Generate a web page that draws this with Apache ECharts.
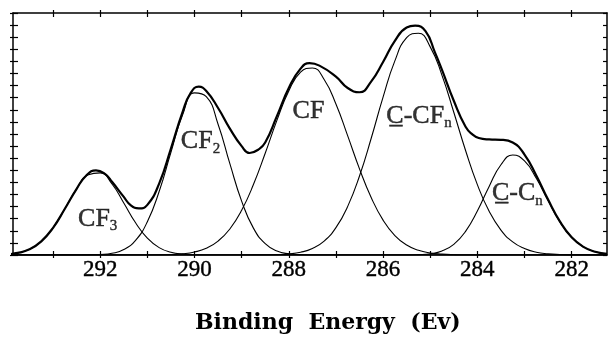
<!DOCTYPE html>
<html>
<head>
<meta charset="utf-8">
<script src="https://cdn.jsdelivr.net/npm/echarts@6/dist/echarts.min.js"></script>
<style>
  html, body { margin: 0; padding: 0; background: #fff; }
  #chart { width: 609px; height: 339px; }
</style>
</head>
<body>
<div id="chart"></div>
<script>
// binding energy grid (eV) for the fitted components, read every 0.25 eV
var energy = [294.00, 293.75, 293.50, 293.25, 293.00, 292.75, 292.50, 292.25, 292.00, 291.75,
  291.50, 291.25, 291.00, 290.75, 290.50, 290.25, 290.00, 289.75, 289.50, 289.25,
  289.00, 288.75, 288.50, 288.25, 288.00, 287.75, 287.50, 287.25, 287.00, 286.75,
  286.50, 286.25, 286.00, 285.75, 285.50, 285.25, 285.00, 284.75, 284.50, 284.25,
  284.00, 283.75, 283.50, 283.25, 283.00, 282.75, 282.50, 282.25, 282.00, 281.75,
  281.50, 281.25];

// fitted components (intensity, arbitrary units)
var cf3 = [0.05, 0.17, 0.47, 1.13, 2.25, 3.82, 5.47, 6.63, 6.79, 5.87,
  4.30, 2.66, 1.39, 0.61, 0.23, 0.07, 0.02, 0, 0, 0,
  0, 0, 0, 0, 0, 0, 0, 0, 0, 0,
  0, 0, 0, 0, 0, 0, 0, 0, 0, 0,
  0, 0, 0, 0, 0, 0, 0, 0, 0, 0,
  0, 0];
var cf2 = [0, 0, 0, 0, 0, 0, 0, 0.01, 0.04, 0.14,
  0.45, 1.21, 2.75, 5.25, 8.48, 11.60, 13.40, 13.09, 10.81, 7.55,
  4.45, 2.22, 0.94, 0.33, 0.10, 0.03, 0, 0, 0, 0,
  0, 0, 0, 0, 0, 0, 0, 0, 0, 0,
  0, 0, 0, 0, 0, 0, 0, 0, 0, 0,
  0, 0];
var cf = [0, 0, 0, 0, 0, 0, 0, 0, 0, 0,
  0, 0, 0, 0.01, 0.04, 0.10, 0.25, 0.56, 1.15, 2.15,
  3.69, 5.82, 8.41, 11.15, 13.56, 15.12, 15.46, 14.50, 12.48, 9.84,
  7.12, 4.73, 2.88, 1.61, 0.82, 0.39, 0.17, 0.07, 0.02, 0,
  0, 0, 0, 0, 0, 0, 0, 0, 0, 0,
  0, 0];
var cCFn = [0, 0, 0, 0, 0, 0, 0, 0, 0, 0,
  0, 0, 0, 0, 0, 0, 0, 0, 0, 0,
  0, 0.01, 0.01, 0.03, 0.09, 0.23, 0.54, 1.15, 2.26, 4.02,
  6.53, 9.67, 13.05, 16.04, 17.96, 18.33, 17.20, 14.85, 11.80, 8.64,
  5.82, 3.61, 2.06, 1.08, 0.53, 0.23, 0.10, 0.04, 0.01, 0,
  0, 0];
var cCn = [0, 0, 0, 0, 0, 0, 0, 0, 0, 0,
  0, 0, 0, 0, 0, 0, 0, 0, 0, 0,
  0, 0, 0, 0, 0, 0, 0, 0, 0, 0,
  0, 0, 0, 0, 0, 0.03, 0.11, 0.33, 0.88, 1.95,
  3.63, 5.67, 7.46, 8.26, 7.77, 6.34, 4.48, 2.74, 1.45, 0.67,
  0.27, 0.09];

// measured envelope: its own energies, denser around peaks and valleys
var envEnergy = [294.00, 293.75, 293.50, 293.25, 293.00, 292.75, 292.50, 292.30, 292.09, 291.90,
  291.75, 291.50, 291.35, 291.18, 291.00, 290.75, 290.50, 290.25, 290.08, 289.91,
  289.75, 289.50, 289.25, 289.00, 288.83, 288.65, 288.50, 288.25, 288.00, 287.75,
  287.56, 287.35, 287.00, 286.75, 286.50, 286.25, 286.00, 285.75, 285.50, 285.32,
  285.10, 284.90, 284.75, 284.50, 284.25, 284.10, 283.97, 283.75, 283.50, 283.25,
  283.00, 282.75, 282.50, 282.25, 282.00, 281.75, 281.50, 281.25];
var envelope = [0.05, 0.17, 0.47, 1.13, 2.25, 3.82, 5.47, 6.55, 7.00, 6.70,
  6.05, 4.80, 4.10, 3.85, 4.14, 5.90, 8.80, 11.85, 13.40, 13.92,
  13.55, 12.15, 10.45, 9.00, 8.43, 8.70, 9.30, 11.50, 13.80, 15.40,
  15.85, 15.65, 14.74, 13.80, 13.45, 14.35, 15.95, 17.70, 18.80, 18.95,
  18.50, 16.75, 15.30, 12.75, 10.60, 9.95, 9.67, 9.55, 9.52, 9.30,
  8.30, 6.57, 4.58, 2.78, 1.46, 0.67, 0.27, 0.09];

var majorTicks = [282, 284, 286, 288, 290, 292];
var minorTicks = [282, 283, 284, 285, 286, 287, 288, 289, 290, 291, 292, 293];

// peak annotations: [energy, intensity, main text, subscript, underline first C]
var peakLabels = [
  [292.47, 3.0, 'CF', '3', false],
  [290.29, 9.4, 'CF', '2', false],
  [287.92, 11.9, 'CF', '', false],
  [285.93, 11.5, '-CF', 'n', true],
  [283.69, 5.1, '-C', 'n', true]
];

var serif = '"Liberation Serif", "Times New Roman", serif';

function pairs(xs, ys) {
  return xs.map(function (e, i) { return [e, ys[i]]; });
}

function lineSeries(name, xs, ys, width) {
  return {
    name: name, type: 'line', data: pairs(xs, ys), smooth: 0.5, symbol: 'none',
    lineStyle: { color: '#000', width: width }, silent: true, z: width > 1.5 ? 3 : 2
  };
}

var chart = echarts.init(document.getElementById('chart'));

function xAx(pos, inside, len, showLine, showLabel) {
  return {
    type: 'value', position: pos, min: 281.25, max: 293.85, inverse: true,
    axisLine: { show: showLine, onZero: false, lineStyle: { color: '#000', width: 1.5 } },
    axisTick: { show: true, inside: inside, length: len, customValues: minorTicks,
      lineStyle: { color: '#000', width: 1.2 } },
    axisLabel: { show: showLabel, customValues: majorTicks, margin: 3, color: '#000',
      fontFamily: serif, fontSize: 23, textBorderColor: '#000', textBorderWidth: 0.4 },
    splitLine: { show: false }
  };
}
function yAx(pos, inside, len, showLine) {
  return {
    type: 'value', position: pos, min: 0, max: 20, interval: 1,
    axisLine: { show: showLine, onZero: false, lineStyle: { color: '#000', width: 1.5 } },
    axisTick: { show: true, inside: inside, length: len, lineStyle: { color: '#000', width: 1.2 } },
    axisLabel: { show: false },
    splitLine: { show: false }
  };
}

chart.setOption({
  backgroundColor: '#fff',
  animation: false,
  title: {
    text: 'Binding  Energy  (Ev)',
    left: 190, top: 307,
    textStyle: { fontFamily: '"DejaVu Serif", serif', fontWeight: 'bold', fontSize: 22, color: '#000' }
  },
  grid: { left: 13, right: 2, top: 13, bottom: 84 },
  xAxis: [
    xAx('bottom', true, 4, true, true),
    xAx('bottom', false, 3, false, false),
    xAx('top', true, 4, true, false),
    xAx('top', false, 3, false, false)
  ],
  yAxis: [
    yAx('left', true, 5, true),
    yAx('left', false, 3, false),
    yAx('right', true, 4, true)
  ],
  series: [
    lineSeries('CF3', energy, cf3, 1.1),
    lineSeries('CF2', energy, cf2, 1.1),
    lineSeries('CF', energy, cf, 1.1),
    lineSeries('C-CFn', energy, cCFn, 1.1),
    lineSeries('C-Cn', energy, cCn, 1.1),
    lineSeries('envelope', envEnergy, envelope, 2.2),
    {
      type: 'scatter', symbolSize: 0, silent: true, z: 5,
      data: peakLabels.map(function (p) { return [p[0], p[1]]; }),
      label: {
        show: true, position: 'right', distance: 0, color: '#000',
        formatter: function (params) {
          var p = peakLabels[params.dataIndex];
          var s = p[4] ? '{m|C\u0332' + p[2] + '}' : '{m|' + p[2] + '}';
          if (p[3]) s += '{s|' + p[3] + '}';
          return s;
        },
        rich: {
          m: { fontFamily: serif, fontSize: 26, lineHeight: 26, color: '#000', verticalAlign: 'top',
            textBorderColor: '#000', textBorderWidth: 0.5 },
          s: { fontFamily: serif, fontSize: 15, lineHeight: 15, color: '#000', verticalAlign: 'top',
            padding: [13, 0, 0, 0], textBorderColor: '#000', textBorderWidth: 0.4 }
        }
      }
    }
  ]
});
</script>
</body>
</html>
